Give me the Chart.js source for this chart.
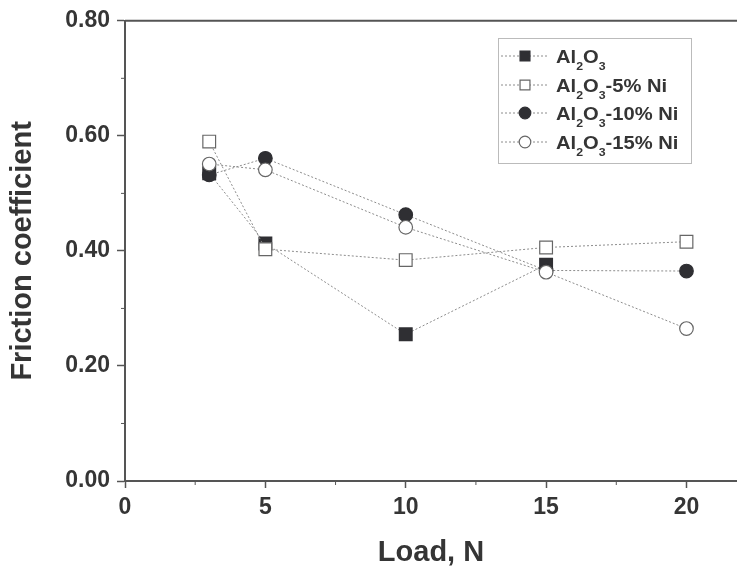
<!DOCTYPE html>
<html>
<head>
<meta charset="utf-8">
<script src="https://cdn.jsdelivr.net/npm/chart.js@4.4.0/dist/chart.umd.min.js"></script>
<style>
  html, body { margin: 0; padding: 0; background: #fff; overflow: hidden; }
</style>
</head>
<body>
<canvas id="frictionChart" width="737" height="570"></canvas>
<script>
// Data
const loads = [3, 5, 10, 15, 20];
const al2o3 = [0.535, 0.413, 0.255, 0.376, null];
const ni5 = [0.590, 0.403, 0.384, 0.406, 0.416];
const ni10 = [0.532, 0.561, 0.463, 0.366, 0.365];
const ni15 = [0.551, 0.541, 0.441, 0.363, 0.265];
const seriesNames = ['Al₂O₃', 'Al₂O₃-5% Ni', 'Al₂O₃-10% Ni', 'Al₂O₃-15% Ni'];

const xTicks = [0, 5, 10, 15, 20];
const yTicks = [0, 0.2, 0.4, 0.6, 0.8];
const xMinor = [2.5, 7.5, 12.5, 17.5];
const yMinor = [0.1, 0.3, 0.5, 0.7];

const textColor = '#353535';
const axisColor = '#555';
const lineColor = '#8c8c8c';
const markDark = '#2f2f33';

Chart.defaults.font.family = "'Liberation Sans', Arial, sans-serif";

const toPoints = arr => loads.map((x, i) => ({ x: x, y: arr[i] }));

function series(label, arr, style, filled, radius, order) {
    return {
        label: label,
        data: toPoints(arr),
        showLine: true,
        borderColor: lineColor,
        borderWidth: 1,
        borderDash: [2, 2],
        pointStyle: style,
        pointRadius: radius,
        pointBackgroundColor: filled ? markDark : '#fff',
        pointBorderColor: filled ? markDark : '#666',
        pointBorderWidth: 1.2,
        order: order,
        spanGaps: false
    };
}

// draws text where ₂ ₃ become small lowered digits
function drawRich(ctx, text, x, y) {
    const subs = { '₂': '2', '₃': '3' };
    ctx.save();
    ctx.translate(x, y);
    ctx.scale(1.12, 1);
    ctx.textBaseline = 'alphabetic';
    ctx.textAlign = 'left';
    let cx = 0;
    for (const ch of text) {
        if (subs[ch]) {
            ctx.font = "bold 11px 'Liberation Sans', Arial, sans-serif";
            ctx.fillText(subs[ch], cx, 7);
            cx += ctx.measureText(subs[ch]).width;
        } else {
            ctx.font = "bold 18px 'Liberation Sans', Arial, sans-serif";
            ctx.fillText(ch, cx, 0);
            cx += ctx.measureText(ch).width;
        }
    }
    ctx.restore();
}

const framePlugin = {
    id: 'frame',
    afterDraw(chart) {
        const ctx = chart.ctx;
        const area = chart.chartArea;
        const xs = chart.scales.x, ys = chart.scales.y;
        ctx.save();
        // top border
        ctx.strokeStyle = axisColor;
        ctx.lineWidth = 2;
        ctx.beginPath();
        ctx.moveTo(area.left, area.top);
        ctx.lineTo(area.right, area.top);
        ctx.stroke();
        // minor ticks
        ctx.lineWidth = 1;
        ctx.beginPath();
        xMinor.forEach(v => {
            const px = xs.getPixelForValue(v);
            ctx.moveTo(px, area.bottom);
            ctx.lineTo(px, area.bottom + 4);
        });
        yMinor.forEach(v => {
            const py = ys.getPixelForValue(v);
            ctx.moveTo(area.left, py);
            ctx.lineTo(area.left - 4, py);
        });
        ctx.stroke();

        // legend box
        const box = { left: 498, top: 38, right: 691, bottom: 163 };
        ctx.strokeStyle = '#777';
        ctx.setLineDash([1, 1]);
        ctx.strokeRect(box.left + 0.5, box.top + 0.5, box.right - box.left, box.bottom - box.top);
        const rowY = [56, 85, 113, 142];
        chart.data.datasets.forEach((ds, i) => {
            const y = rowY[i];
            ctx.strokeStyle = lineColor;
            ctx.lineWidth = 1;
            ctx.setLineDash([2, 2]);
            ctx.beginPath();
            ctx.moveTo(501, y);
            ctx.lineTo(548, y);
            ctx.stroke();
            ctx.setLineDash([]);
            ctx.fillStyle = ds.pointBackgroundColor;
            ctx.strokeStyle = ds.pointBorderColor;
            ctx.lineWidth = 1.2;
            Chart.helpers.drawPoint(ctx, {
                pointStyle: ds.pointStyle,
                radius: ds.pointStyle === 'rect' ? 7 : 5.8,
                borderWidth: 1.2,
                rotation: 0
            }, 525, y);
            ctx.fillStyle = textColor;
            drawRich(ctx, ds.label, 556, y + 7);
        });
        ctx.restore();
    }
};

const ctx = document.getElementById('frictionChart').getContext('2d');
const frictionChart = new Chart(ctx, {
    type: 'line',
    data: {
        datasets: [
            series(seriesNames[0], al2o3, 'rect', true, 9, 4),
            series(seriesNames[1], ni5, 'rect', false, 9, 3),
            series(seriesNames[2], ni10, 'circle', true, 6.8, 2),
            series(seriesNames[3], ni15, 'circle', false, 6.8, 1)
        ]
    },
    options: {
        responsive: false,
        animation: false,
        devicePixelRatio: 1,
        layout: { autoPadding: false, padding: { top: 16, left: 0, right: 0, bottom: 0 } },
        plugins: {
            legend: { display: false },
            tooltip: { enabled: false }
        },
        scales: {
            x: {
                type: 'linear',
                min: 0,
                max: 21.8,
                afterBuildTicks: scale => {
                    scale.ticks = xTicks.map(v => ({ value: v }));
                },
                afterFit: scale => {
                    scale.height = 89;
                    scale.paddingRight = 0;
                    scale.paddingLeft = 0;
                },
                grid: { drawOnChartArea: false, tickLength: 7, tickColor: axisColor, tickWidth: 1.5 },
                border: { color: axisColor, width: 2 },
                ticks: {
                    color: textColor,
                    padding: 6,
                    font: { size: 23, weight: 'bold' },
                    callback: v => String(v)
                },
                title: {
                    display: true,
                    text: 'Load, N',
                    color: textColor,
                    font: { size: 29, weight: 'bold' },
                    padding: { top: 0, bottom: 0 }
                }
            },
            y: {
                min: 0,
                max: 0.8,
                afterBuildTicks: scale => {
                    scale.ticks = yTicks.map(v => ({ value: v }));
                },
                afterFit: scale => { scale.width = 125; },
                grid: { drawOnChartArea: false, tickLength: 8, tickColor: axisColor, tickWidth: 1.5 },
                border: { color: axisColor, width: 2 },
                ticks: {
                    color: textColor,
                    padding: 7,
                    font: { size: 23, weight: 'bold' },
                    callback: v => Number(v).toFixed(2)
                },
                title: {
                    display: true,
                    text: 'Friction coefficient',
                    color: textColor,
                    font: { size: 29, weight: 'bold' },
                    padding: { top: 6, bottom: 0 }
                }
            }
        }
    },
    plugins: [framePlugin]
});
</script>
</body>
</html>
